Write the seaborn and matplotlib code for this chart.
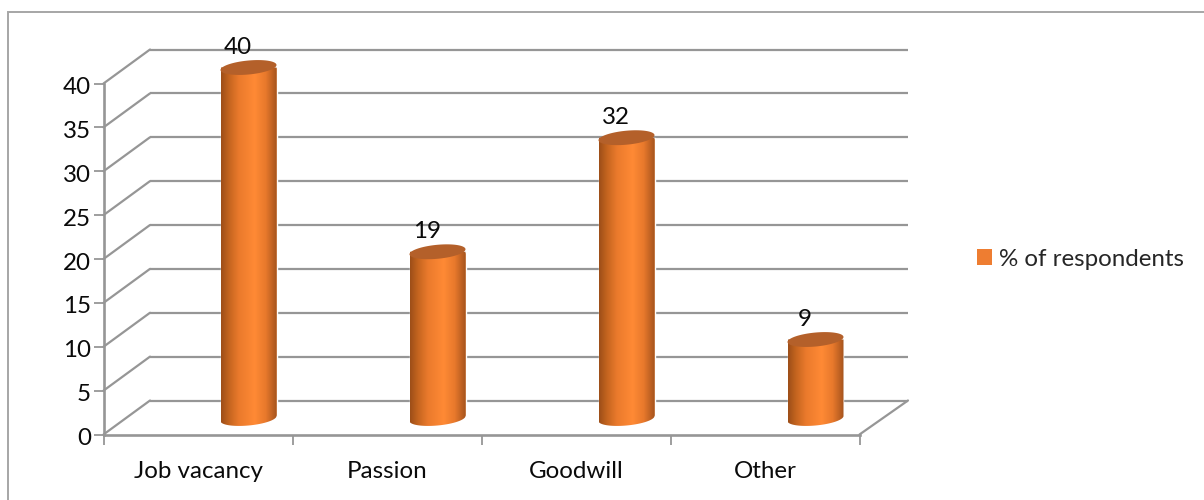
import numpy as np
import pandas as pd
import matplotlib
matplotlib.use("Agg")
import matplotlib.pyplot as plt
from matplotlib.colors import LinearSegmentedColormap
from matplotlib.patches import PathPatch, Rectangle, Polygon
from matplotlib.path import Path
from matplotlib.transforms import ScaledTranslation
import seaborn as sns

categories = ["Job vacancy", "Passion", "Goodwill", "Other"]
respondents = [40, 19, 32, 9]
series_name = "% of respondents"
y_ticks = [0, 5, 10, 15, 20, 25, 30, 35, 40]

W, H, DPI = 1204, 500, 100
sns.set_theme(style="white")
plt.rcParams["font.family"] = ["Lato", "DejaVu Sans"]
GRID = "#969696"
FS = 17.4
INK = "#0a0a0a"

fig = plt.figure(figsize=(W / DPI, H / DPI), dpi=DPI)
L, R, B, T = 103.5, 859.5, 434.5, 83.5
ax = fig.add_axes([L / W, 1 - B / H, (R - L) / W, (B - T) / H])
df = pd.DataFrame({"category": categories, "value": respondents})
sns.barplot(data=df, x="category", y="value", color="#f07f2e", width=56 / 189, ax=ax, zorder=3,
            order=categories, errorbar=None)
ax.set_xlim(-0.5, 3.5)
ax.set_ylim(0, 40)
ax.set_xlabel("")
ax.set_ylabel("")


def shift(dx, dy):
    return ax.transData + ScaledTranslation(dx / DPI, -dy / DPI, fig.dpi_scale_trans)


px_x = 189.0
px_y = 351 / 40

# walls and floor
back = shift(46.5, -34)
for v in y_ticks:
    ax.plot([-0.5, 3.5 + 2 / px_x], [v, v], color=GRID, lw=1.6, transform=back, clip_on=False, zorder=1, solid_capstyle="butt")
    ax.plot([-0.5, -0.5 + 46.5 / px_x], [v, v + 34 / px_y], color=GRID, lw=1.6, clip_on=False, zorder=1)
ax.plot([3.5, 3.5 + 48.5 / px_x], [0, 34 / px_y], color=GRID, lw=1.6, clip_on=False, zorder=1)

for s in ("top", "right"):
    ax.spines[s].set_visible(False)
for s in ("left", "bottom"):
    ax.spines[s].set_color(GRID)
    ax.spines[s].set_linewidth(1.9)
ax.set_yticks(y_ticks)
ax.set_xticks(np.arange(-0.5, 4, 1), minor=False)
ax.set_xticklabels([""] * 5)
ax.set_xticks(range(4), labels=categories, minor=True)
ax.tick_params(axis="y", length=7, width=1.3, color=GRID, labelsize=FS, pad=2, labelcolor=INK, left=True)
ax.tick_params(axis="x", which="major", length=7, width=1.3, color=GRID, bottom=True)
ax.tick_params(axis="x", which="minor", length=0, labelsize=FS, pad=19, labelcolor=INK)
for lab in ax.get_yticklabels():
    lab.set_transform(lab.get_transform() + ScaledTranslation(0, -2 / DPI, fig.dpi_scale_trans))

# cylinders
cyl = LinearSegmentedColormap.from_list(
    "cyl", [(0, "#9c4e18"), (0.14, "#c4641f"), (0.32, "#ea7a2c"), (0.6, "#ff8a35"), (0.8, "#e8792c"), (0.93, "#bd6022"), (1, "#a4541e")])
grad = np.linspace(0, 1, 256).reshape(1, -1)
OX, OY = 50.5, -16
RY, TILT = 7.0, 2.5
ang = np.linspace(0, 2 * np.pi, 121)
for patch, val in zip(list(ax.patches), respondents):
    cx = patch.get_x() + patch.get_width() / 2
    hw = patch.get_width() / 2
    t = shift(OX, OY)
    patch.set_transform(t)
    patch.set_clip_on(False)
    patch.set_y(TILT / px_y)
    patch.set_height(val - TILT / px_y)
    ex = hw * np.cos(ang)
    ey = (RY * np.sin(ang) + TILT * np.cos(ang)) / px_y
    lower = ang >= np.pi
    bx, by = cx + ex[lower], ey[lower]
    verts = list(zip(bx, by)) + [(cx + hw, val), (cx - hw, val), (bx[0], by[0])]
    clip = PathPatch(Path(verts, closed=False), transform=t, fc="none", ec="none", clip_on=False)
    ax.add_patch(clip)
    im = ax.imshow(grad, cmap=cyl, aspect="auto", extent=(cx - hw, cx + hw, -2, val), transform=t, zorder=4)
    im.set_clip_box(fig.bbox)
    im.set_clip_path(clip)
    ax.set_xlim(-0.5, 3.5)
    ax.set_ylim(0, 40)
    ax.add_patch(Polygon(np.column_stack([cx + ex, val + ey]), closed=True, transform=t, fc="#b4602a", ec="none", zorder=5, clip_on=False))
    ax.annotate(str(val), (cx, val), xytext=(40, 36), textcoords="offset pixels", ha="center", va="center",
                fontsize=FS, color=INK, annotation_clip=False, zorder=6)

handle = Rectangle((0, 0), 1, 1, fc="#ee7d31", ec="none")
fig.legend([handle], [series_name], loc="center left", bbox_to_anchor=(977 / W, 1 - 259 / H), frameon=False,
           fontsize=FS, handlelength=0.62, handleheight=0.62, handletextpad=0.29, borderpad=0, borderaxespad=0)
fig.add_artist(Rectangle((8 / W, -0.05), 1.05, 1.05 - 12 / H, transform=fig.transFigure, fc="none", ec="#a6a6a6", lw=1.4))
fig.savefig("out.png", dpi=DPI)
